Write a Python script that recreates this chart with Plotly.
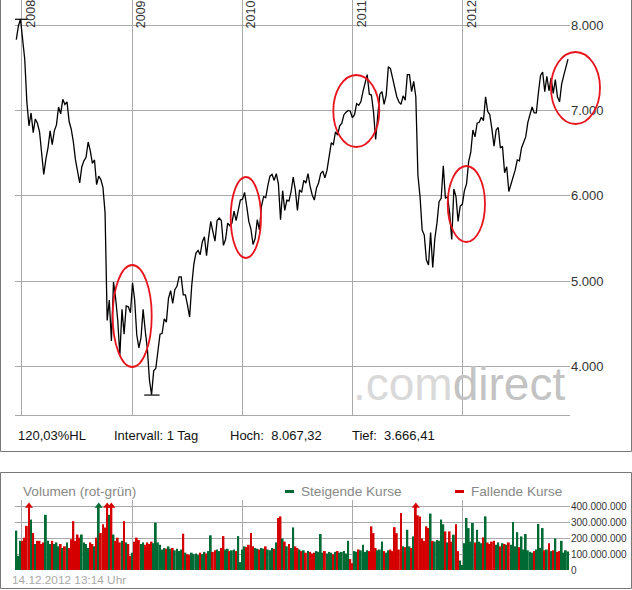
import numpy as np
import pandas as pd
import plotly.graph_objects as go

# ---------------- data (weekly) ----------------
week_start = "2007-12-14"
week_end = "2012-12-14"

price_2007 = [7830, 7990, 8067]
price_2008 = [7808, 7600, 7100, 6820, 6970, 6740, 6900, 6850, 6750, 6510,
              6250, 6430, 6560, 6760, 6600, 6760, 6830, 7040, 6960, 7130,
              7070, 7100, 6870, 6780, 6630, 6420, 6270, 6150, 6340, 6410,
              6450, 6630, 6530, 6380, 6420, 6130, 6230, 6190, 6100, 5800,
              4540, 4780, 4300, 4990, 4800, 4540, 4130, 4670, 4380, 4710,
              4700, 4630]
price_2009 = [4980, 4780, 4370, 4220, 4340, 4670, 4420, 4210, 3840, 3670,
              3950, 3980, 4180, 4380, 4390, 4560, 4520, 4800, 4890, 4740,
              4900, 4940, 5050, 5050, 4840, 4840, 4720, 4580, 4950, 5200,
              5330, 5360, 5310, 5460, 5520, 5300, 5520, 5700, 5580, 5470,
              5710, 5740, 5710, 5420, 5490, 5680, 5650, 5680, 5820, 5710,
              5830, 5950]
price_2010 = [5960, 6040, 5880, 5700, 5610, 5430, 5500, 5720, 5600, 5880,
              5990, 5980, 6120, 6230, 6250, 6180, 6260, 6140, 5720, 6060,
              5830, 5950, 5940, 6050, 6220, 6070, 5830, 6070, 6040, 6180,
              6150, 6260, 6110, 6010, 5950, 6090, 6150, 6260, 6290, 6210,
              6300, 6480, 6620, 6600, 6750, 6710, 6820, 6850, 6950, 6980,
              7000, 6990, 6914]
price_2011 = [6950, 7080, 7060, 7100, 7220, 7340, 7420, 7190, 7180, 6980,
              6660, 6940, 7190, 7220, 7070, 7180, 7510, 7490, 7390, 7270,
              7160, 7100, 7070, 7170, 7120, 7420, 7420, 7220, 7340, 7160,
              6240, 5990, 5600, 5540, 5250, 5190, 5570, 5160, 5500, 5680,
              5930, 5970, 6350, 5970, 5990, 5800, 5490, 6080, 5990, 5700,
              5880, 5900]
price_2012 = [6060, 6140, 6400, 6510, 6770, 6690, 6850, 6860, 6920, 6880,
              7160, 6990, 6950, 6780, 6580, 6770, 6800, 6560, 6580, 6270,
              6340, 6050, 6130, 6230, 6300, 6420, 6410, 6560, 6630, 6690,
              6860, 6940, 7040, 6970, 6970, 7210, 7410, 7450, 7220, 7400,
              7230, 7380, 7200, 7360, 7160, 7100, 7310, 7410, 7520, 7600]

# volume in millions of shares
vol_2007 = [250, 90, 185]
vol_2008 = [185, 205, 280, 440, 320, 235, 165, 185, 185, 165,
            175, 350, 185, 165, 185, 165, 175, 150, 165, 140,
            150, 175, 140, 195, 310, 185, 225, 205, 225, 175,
            165, 140, 175, 165, 150, 205, 430, 235, 290, 270,
            450, 350, 430, 225, 185, 205, 175, 185, 310, 175,
            165, 90]
vol_2009 = [110, 180, 205, 190, 165, 175, 160, 175, 165, 180,
            170, 300, 175, 160, 130, 140, 135, 150, 135, 140,
            125, 135, 120, 130, 230, 110, 100, 95, 110, 100,
            105, 95, 110, 100, 115, 105, 120, 220, 115, 125,
            130, 120, 140, 215, 130, 135, 120, 125, 130, 120,
            215, 50]
vol_2010 = [130, 150, 145, 160, 235, 150, 140, 135, 130, 140,
            135, 150, 130, 125, 140, 135, 175, 330, 340, 200,
            180, 150, 165, 140, 270, 150, 140, 130, 120, 125,
            110, 120, 115, 105, 110, 120, 115, 228, 110, 120,
            105, 115, 110, 100, 115, 120, 110, 115, 120, 105,
            185, 70, 43]
vol_2011 = [120, 115, 130, 125, 160, 115, 125, 120, 277, 234,
            140, 125, 130, 180, 120, 110, 125, 130, 120, 272,
            234, 130, 362, 150, 145, 255, 150, 140, 213, 415,
            347, 340, 200, 185, 277, 266, 358, 185, 180, 190,
            185, 320, 290, 245, 175, 245, 180, 224, 290, 120,
            60, 32]
vol_2012 = [170, 330, 266, 180, 298, 175, 255, 180, 170, 207,
            340, 175, 165, 180, 185, 160, 175, 150, 170, 165,
            160, 175, 160, 305, 150, 240, 145, 213, 130, 228,
            125, 115, 110, 120, 130, 292, 140, 266, 125, 130,
            170, 120, 125, 200, 115, 120, 185, 110, 125, 117]

price_ticks = [4000, 5000, 6000, 7000, 8000]
price_tick_text = ["4.000", "5.000", "6.000", "7.000", "8.000"]
vol_ticks = [0, 100, 200, 300, 400]
vol_tick_text = ["0", "100.000.000", "200.000.000", "300.000.000", "400.000.000"]
year_starts = ["2008-01-01", "2009-01-01", "2010-01-01", "2011-01-01", "2012-01-01"]
year_labels = ["2008", "2009", "2010", "2011", "2012"]

high_date, high_value = "2007-12-28", 8067.32
low_date, low_value = "2009-03-07", 3666.41

info_texts = ["120,03%HL", "Intervall: 1 Tag", "Hoch:  8.067,32", "Tief:  3.666,41"]
stamp_text = "14.12.2012 13:14 Uhr"

# ---------------- build ----------------
dates = pd.date_range(week_start, week_end, freq="W-FRI")
price = price_2007 + price_2008 + price_2009 + price_2010 + price_2011 + price_2012
volume = vol_2007 + vol_2008 + vol_2009 + vol_2010 + vol_2011 + vol_2012
n = min(len(dates), len(price), len(volume))
dates = dates[:n]
price = np.array(price[:n], dtype=float)
volume = np.array(volume[:n], dtype=float)

GREEN = "#006a35"
RED = "#d40000"
rising = np.concatenate([[True], price[1:] >= price[:-1]])
bar_colors = [GREEN if r else RED for r in rising]
VCAP = 400
vol_shown = np.minimum(volume, VCAP)
over = volume > VCAP

W, H = 632, 590
ML, MR, MT, MB = 15, 62, 0, 20
PW, PH = W - ML - MR, H - MT - MB


def px(xp):
    return (xp - ML) / PW


def py(yp):
    return (H - MB - yp) / PH


FONT = "Liberation Sans, Arial, sans-serif"
GRID = "#a9a9a9"

fig = go.Figure()
fig.add_trace(go.Scatter(x=dates, y=price, mode="lines",
                         line=dict(color="#000000", width=1.3),
                         xaxis="x", yaxis="y", showlegend=False, hoverinfo="skip"))
fig.add_trace(go.Scatter(x=[high_date, low_date], y=[high_value, low_value], mode="markers",
                         marker=dict(symbol="line-ew", size=11, line=dict(color="#000", width=1.2)),
                         xaxis="x", yaxis="y", showlegend=False, hoverinfo="skip"))
fig.add_trace(go.Bar(x=dates, y=vol_shown, marker=dict(color=bar_colors, line=dict(width=0)),
                     xaxis="x2", yaxis="y2", showlegend=False, hoverinfo="skip"))
fig.add_trace(go.Scatter(x=dates[over], y=[VCAP + 6] * int(over.sum()), mode="markers",
                         marker=dict(symbol="triangle-up", size=7,
                                     color=[c for c, o in zip(bar_colors, over) if o]),
                         xaxis="x2", yaxis="y2", showlegend=False, hoverinfo="skip"))

x_range = ["2007-12-09 18:00", "2012-12-20 14:00"]
price_dom = [py(415), 1.0]
vol_dom = [0.0, py(500)]

fig.update_layout(
    width=W, height=H, margin=dict(l=ML, r=MR, t=MT, b=MB),
    paper_bgcolor="white", plot_bgcolor="white",
    font=dict(family=FONT, color="#333"),
    bargap=0.12,
    xaxis=dict(type="date", range=x_range, domain=[0, 1], anchor="y",
               tickvals=year_starts, showticklabels=False, ticks="",
               showgrid=True, gridcolor=GRID, gridwidth=1,
               showline=True, linecolor=GRID, linewidth=1, zeroline=False),
    yaxis=dict(domain=price_dom, range=[3433, 8293], side="right", anchor="x",
               tickvals=price_ticks, ticktext=price_tick_text,
               tickfont=dict(size=13, color="#333", family=FONT), ticks="",
               showgrid=True, gridcolor=GRID, gridwidth=1, zeroline=False, showline=False),
    xaxis2=dict(type="date", range=x_range, domain=[0, 1], anchor="y2", matches="x",
                tickvals=year_starts, showticklabels=False, ticks="",
                showgrid=True, gridcolor=GRID, gridwidth=1,
                showline=False, zeroline=False),
    yaxis2=dict(domain=vol_dom, range=[0, 444], side="right", anchor="x2",
                tickvals=vol_ticks, ticktext=vol_tick_text,
                tickfont=dict(size=10, color="#333", family=FONT), ticks="",
                showgrid=True, gridcolor=GRID, gridwidth=1, zeroline=False, showline=False),
)

annotations = []
for d, lab in zip(year_starts, year_labels):
    annotations.append(dict(x=d, y=1.0, xref="x", yref="paper", text=lab, showarrow=False,
                            textangle=-90, xanchor="left", yanchor="top", xshift=0, yshift=2,
                            font=dict(size=12.5, color="#333", family=FONT)))
# watermark
annotations.append(dict(x=px(351), y=py(384), xref="paper", yref="paper", showarrow=False,
                        xanchor="left", yanchor="middle",
                        text="<span style='color:#d9d9d9'>.com</span><span style='color:#c3c3c3'>direct</span>",
                        font=dict(size=46, family=FONT)))
info_x = [16, 112, 228, 350]
for xx, t in zip(info_x, info_texts):
    annotations.append(dict(x=px(xx), y=py(435), xref="paper", yref="paper", text=t,
                            showarrow=False, xanchor="left", yanchor="middle",
                            font=dict(size=13, color="#111", family=FONT)))
annotations.append(dict(x=px(21), y=py(491), xref="paper", yref="paper", text="Volumen (rot-grün)",
                        showarrow=False, xanchor="left", yanchor="middle",
                        font=dict(size=13.6, color="#888", family=FONT)))
annotations.append(dict(x=px(299), y=py(491), xref="paper", yref="paper", text="Steigende Kurse",
                        showarrow=False, xanchor="left", yanchor="middle",
                        font=dict(size=13.6, color="#888", family=FONT)))
annotations.append(dict(x=px(469), y=py(491), xref="paper", yref="paper", text="Fallende Kurse",
                        showarrow=False, xanchor="left", yanchor="middle",
                        font=dict(size=13.6, color="#888", family=FONT)))
annotations.append(dict(x=px(10), y=py(580), xref="paper", yref="paper", text=stamp_text,
                        showarrow=False, xanchor="left", yanchor="middle",
                        font=dict(size=11.8, color="#aaa", family=FONT)))
fig.update_layout(annotations=annotations)

shapes = []
# panel frames
shapes.append(dict(type="rect", xref="paper", yref="paper", x0=px(0.5), x1=px(631.5),
                   y0=py(451.5), y1=py(-2), line=dict(color="#777", width=1), layer="below"))
shapes.append(dict(type="rect", xref="paper", yref="paper", x0=px(0.5), x1=px(631.5),
                   y0=py(588.5), y1=py(472.5), line=dict(color="#777", width=1), layer="below"))
# legend keys
shapes.append(dict(type="rect", xref="paper", yref="paper", x0=px(285), x1=px(294),
                   y0=py(493), y1=py(490), fillcolor=GREEN, line=dict(width=0)))
shapes.append(dict(type="rect", xref="paper", yref="paper", x0=px(455), x1=px(464),
                   y0=py(493), y1=py(490), fillcolor=RED, line=dict(width=0)))
# red highlight ellipses
ellipses = [(112.7, 151.7, 265, 367), (230.7, 261, 177, 258), (333.3, 379.3, 75, 147),
            (447.7, 485, 166, 242), (551, 600, 52, 124)]
for x0, x1, y0, y1 in ellipses:
    shapes.append(dict(type="circle", xref="paper", yref="paper", x0=px(x0), x1=px(x1),
                       y0=py(y1), y1=py(y0), line=dict(color="#e8141e", width=1.8)))
fig.update_layout(shapes=shapes)

fig.write_html("out.html", config={"displayModeBar": False},
               post_script="document.body.style.margin='0px';document.body.style.overflow='hidden';")
